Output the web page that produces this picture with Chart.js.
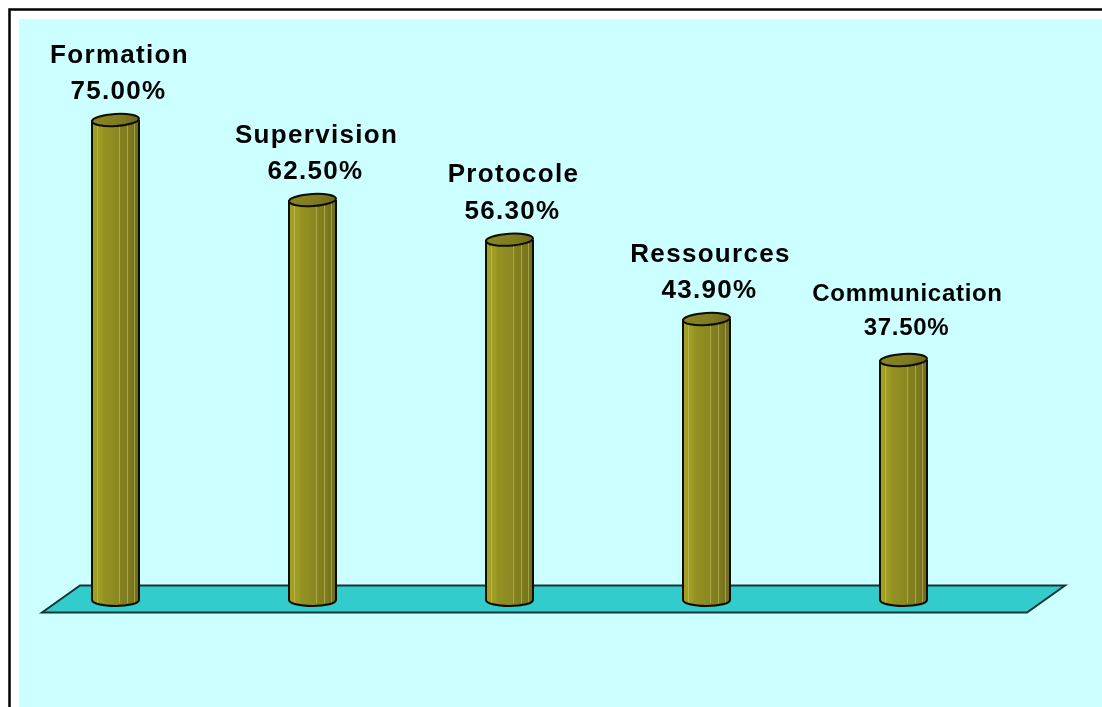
<!DOCTYPE html>
<html>
<head>
<meta charset="utf-8">
<script src="https://cdn.jsdelivr.net/npm/chart.js@4.4.1/dist/chart.umd.min.js"></script>
<style>
 html, body { margin:0; padding:0; background:#fff; overflow:hidden; }
 #wrap { width:1102px; height:707px; position:relative; }
</style>
</head>
<body>
<div id="wrap"><canvas id="myChart"></canvas></div>
<script>
// data
var categories = ['Formation', 'Supervision', 'Protocole', 'Ressources', 'Communication'];
var values = [75.00, 62.50, 56.30, 43.90, 37.50];
var valueLabels = ['75.00%', '62.50%', '56.30%', '43.90%', '37.50%'];

// page frame, cyan panel and the teal floor under the bars
var backdrop = {
 id: 'backdrop',
 beforeDatasetsDraw: function(chart) {
  var ctx = chart.ctx;
  var area = chart.chartArea;
  var y0 = chart.scales.y.getPixelForValue(0);
  ctx.save();
  ctx.fillStyle = '#ffffff';
  ctx.fillRect(0, 0, chart.width, chart.height);
  ctx.strokeStyle = '#000000';
  ctx.lineWidth = 2.5;
  ctx.beginPath();
  ctx.moveTo(9.5, chart.height + 5);
  ctx.lineTo(9.5, 9.5);
  ctx.lineTo(chart.width + 5, 9.5);
  ctx.stroke();
  ctx.fillStyle = '#CCFFFF';
  ctx.fillRect(19, 19, chart.width - 19, chart.height - 19);

  // floor
  ctx.beginPath();
  ctx.moveTo(area.left + 25, y0 + 12.5);
  ctx.lineTo(area.left + 63, y0 - 14.5);
  ctx.lineTo(area.right + 63, y0 - 14.5);
  ctx.lineTo(area.right + 25, y0 + 12.5);
  ctx.closePath();
  ctx.fillStyle = '#33CCCC';
  ctx.fill();
  ctx.strokeStyle = '#163535';
  ctx.lineWidth = 2;
  ctx.stroke();
  ctx.restore();
 }
};

function bodyGradient(ctx, left, w) {
 var g = ctx.createLinearGradient(left, 0, left + w, 0);
 g.addColorStop(0, '#a3a026');
 g.addColorStop(0.2, '#9e9b24');
 g.addColorStop(0.25, '#959222');
 g.addColorStop(0.55, '#8b8822');
 g.addColorStop(0.6, '#85821f');
 g.addColorStop(0.8, '#7d7a1f');
 g.addColorStop(1, '#6e6b1b');
 return g;
}

// cylinders + two line labels, placed from the bar elements
var cylinders = {
 id: 'cylinders',
 afterDatasetsDraw: function(chart) {
  var ctx = chart.ctx;
  var meta = chart.getDatasetMeta(0);
  meta.data.forEach(function(bar, i) {
   var w = bar.width;
   var left = bar.x - w / 2;
   var top = bar.y;
   var base = bar.base;
   var ry = 6;
   ctx.save();
   // body
   ctx.beginPath();
   ctx.moveTo(left, top);
   ctx.lineTo(left, base);
   ctx.ellipse(bar.x, base, w / 2, ry, 0, Math.PI, 0, true);
   ctx.lineTo(left + w, top);
   ctx.closePath();
   ctx.fillStyle = bodyGradient(ctx, left, w);
   ctx.fill();
   // thin light streaks
   ctx.strokeStyle = 'rgba(205,200,110,0.55)';
   ctx.lineWidth = 1;
   [0.1, 0.58, 0.75, 0.9].forEach(function(f) {
    ctx.beginPath();
    ctx.moveTo(Math.round(left + w * f) + 0.5, top + 3);
    ctx.lineTo(Math.round(left + w * f) + 0.5, base + 3);
    ctx.stroke();
   });
   // outline of sides and bottom
   ctx.beginPath();
   ctx.moveTo(left, top);
   ctx.lineTo(left, base);
   ctx.ellipse(bar.x, base, w / 2, ry, 0, Math.PI, 0, true);
   ctx.lineTo(left + w, top);
   ctx.strokeStyle = '#0d0d00';
   ctx.lineWidth = 2;
   ctx.stroke();
   // top face
   ctx.beginPath();
   ctx.ellipse(bar.x, top, w / 2, ry, -0.06, 0, Math.PI * 2);
   var tg = ctx.createLinearGradient(left, top - ry, left + w, top + ry);
   tg.addColorStop(0, '#8a8623');
   tg.addColorStop(0.6, '#807b20');
   tg.addColorStop(1, '#6a651a');
   ctx.fillStyle = tg;
   ctx.fill();
   ctx.stroke();

   // labels
   var size = 26, spacing = 1.3;
   ctx.font = 'bold ' + size + 'px "Liberation Sans", Arial, sans-serif';
   ctx.letterSpacing = spacing + 'px';
   if (ctx.measureText(categories[i]).width > 195) {
    size = 24; spacing = 0.7;
    ctx.font = 'bold ' + size + 'px "Liberation Sans", Arial, sans-serif';
    ctx.letterSpacing = spacing + 'px';
   }
   var valueBase = top - 21 - (26 - size) * 2;
   var nameBase = valueBase - 1.4 * size;
   ctx.fillStyle = '#000000';
   ctx.textAlign = 'center';
   ctx.textBaseline = 'alphabetic';
   ctx.fillText(categories[i], bar.x + 4, nameBase);
   ctx.fillText(valueLabels[i], bar.x + 3, valueBase);
   ctx.restore();
  });
 }
};

var ctx = document.getElementById('myChart').getContext('2d');
var myChart = new Chart(ctx, {
 type: 'bar',
 data: {
  labels: categories,
  datasets: [{
   label: 'Pourcentage',
   data: values,
   backgroundColor: 'rgba(0,0,0,0)',
   borderWidth: 0,
   categoryPercentage: 1,
   barPercentage: 0.2386
  }]
 },
 options: {
  responsive: true,
  maintainAspectRatio: false,
  animation: false,
  layout: { padding: { left: 17, right: 100, top: 88, bottom: 107 } },
  plugins: {
   legend: { display: false },
   tooltip: { enabled: false },
   title: { display: false }
  },
  scales: {
   x: { display: false },
   y: { display: false, min: 0, max: 80 }
  }
 },
 plugins: [backdrop, cylinders]
});
</script>
</body>
</html>
